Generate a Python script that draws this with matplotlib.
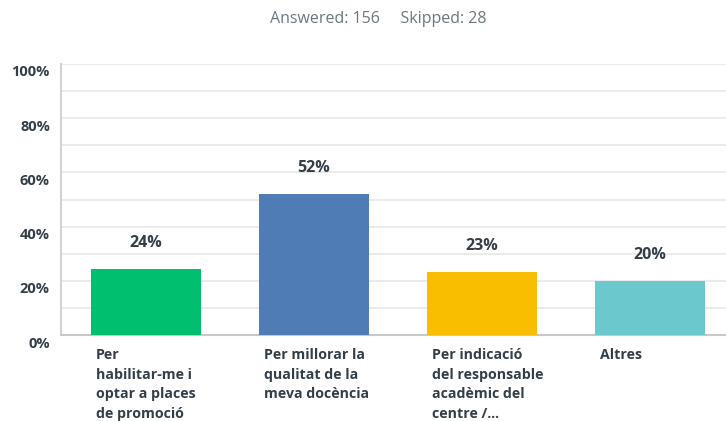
import matplotlib
matplotlib.use("Agg")
import matplotlib.pyplot as plt
from matplotlib.transforms import ScaledTranslation

# dades de la pregunta
categories = ["Per\nhabilitar-me i\noptar a places\nde promoció",
              "Per millorar la\nqualitat de la\nmeva docència",
              "Per indicació\ndel responsable\nacadèmic del\ncentre /...",
              "Altres"]
values = [24.36, 51.92, 23.08, 19.87]
value_labels = ["24%", "52%", "23%", "20%"]
colors = ["#00BF6F", "#507CB6", "#F9BE00", "#6BC8CD"]
answered = 156
skipped = 28

plt.rcParams['font.family'] = ['Open Sans', 'DejaVu Sans']

fig = plt.figure(figsize=(7.26, 4.21), dpi=100)
ax = fig.add_axes([61/726, 86/421, 665/726, 271/421])

x = list(range(len(categories)))
ax.bar(x, values, width=0.655, color=colors, zorder=3)

ax.set_ylim(0, 100)
ax.set_xlim(-0.506, -0.506 + 665/168)

ax.set_yticks(range(0, 101, 20))
ax.set_yticklabels([f"{v}%" for v in range(0, 101, 20)])
ax.set_yticks(range(0, 101, 10), minor=True)
ax.grid(axis='y', which='both', color='#E8E8E8', linewidth=1.2, zorder=0)
ax.tick_params(axis='y', which='both', length=0, pad=8, labelsize=10.5,
               labelcolor='#333E48')
for lab in ax.get_yticklabels():
    lab.set_fontweight('bold')
    lab.set_transform(lab.get_transform() + ScaledTranslation(0, -0.07, fig.dpi_scale_trans))
ax.set_xticks([])

for s in ['top', 'right']:
    ax.spines[s].set_visible(False)
ax.spines['left'].set_color('#D3D3D3')
ax.spines['bottom'].set_color('#C8C8C8')
ax.spines['left'].set_linewidth(1.5)
ax.spines['bottom'].set_linewidth(1.5)

# etiquetes de valor
for i, v in enumerate(values):
    ax.annotate(value_labels[i], (i, v), xytext=(0, 19), textcoords='offset points',
                ha='center', va='center', fontsize=11.5, fontweight='bold', color='#333E48')

# etiquetes de categoria
tr = ax.get_xaxis_transform()
for i, c in enumerate(categories):
    ax.text(i - 0.3, -0.048, c, transform=tr, ha='left', va='top', fontsize=10.2,
            fontweight='bold', color='#333E48', linespacing=1.5)

fig.text(378/726, 1 - 19/421, f"Answered: {answered}     Skipped: {skipped}",
         ha='center', va='center', fontsize=11.5, color='#6B787F')

fig.savefig("out.png", dpi=100)
